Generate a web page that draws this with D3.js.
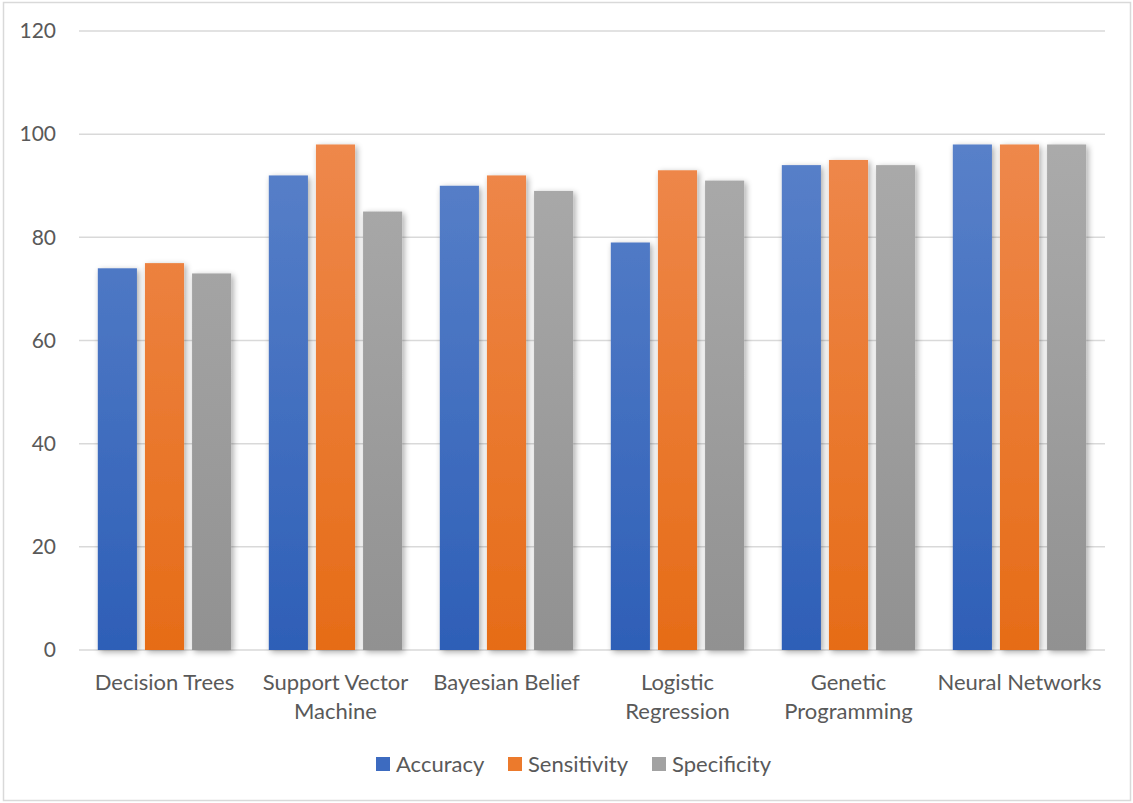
<!DOCTYPE html>
<html>
<head>
<meta charset="utf-8">
<script src="https://cdn.jsdelivr.net/npm/d3@7"></script>
<style>
  html, body { margin: 0; padding: 0; background: #ffffff; }
  svg { display: block; }
  text { font-family: Lato, "Open Sans", "Noto Sans", sans-serif; fill: #595959; }
</style>
</head>
<body>
<svg id="chart" width="1133" height="803"></svg>
<script>
// Classifier performance, grouped by method
const categories = [
  ["Decision Trees"],
  ["Support Vector", "Machine"],
  ["Bayesian Belief"],
  ["Logistic", "Regression"],
  ["Genetic", "Programming"],
  ["Neural Networks"]
];
const seriesNames = ["Accuracy", "Sensitivity", "Specificity"];
const accuracy    = [74, 92, 90, 79, 94, 98];
const sensitivity = [75, 98, 92, 93, 95, 98];
const specificity = [73, 85, 89, 91, 94, 98];
const yTicks = [0, 20, 40, 60, 80, 100, 120];

const seriesValues = [accuracy, sensitivity, specificity];
const colorTop    = ["#6288cd", "#f08e57", "#b0b0b0"];
const colorBottom = ["#2e5fb7", "#e66c17", "#919191"];
const legendColor = ["#3d6bc0", "#ec7a2c", "#a2a2a2"];

const FONT = 22;
const TICK_FONT = 21;
const svg = d3.select("#chart");
const W = 1133, H = 803;
const plot = { left: 79, right: 1105, top: 31, bottom: 650 };

// outer frame
svg.append("rect")
  .attr("x", 3.5).attr("y", 2.5)
  .attr("width", W - 6).attr("height", H - 5)
  .attr("fill", "#ffffff")
  .attr("stroke", "#d9d9d9").attr("stroke-width", 1.5);

const defs = svg.append("defs");
seriesNames.forEach((s, i) => {
  const g = defs.append("linearGradient")
    .attr("id", "grad" + i)
    .attr("gradientUnits", "userSpaceOnUse")
    .attr("x1", 0).attr("x2", 0)
    .attr("y1", plot.top).attr("y2", plot.bottom);
  g.append("stop").attr("offset", "0%").attr("stop-color", colorTop[i]);
  g.append("stop").attr("offset", "100%").attr("stop-color", colorBottom[i]);
});
const shadow = defs.append("filter").attr("id", "shadow")
  .attr("x", "-30%").attr("y", "-10%").attr("width", "160%").attr("height", "130%");
shadow.append("feGaussianBlur").attr("in", "SourceAlpha").attr("stdDeviation", 3).attr("result", "b");
shadow.append("feOffset").attr("in", "b").attr("dx", 2).attr("dy", 2).attr("result", "o");
shadow.append("feComponentTransfer").attr("in", "o").attr("result", "s")
  .append("feFuncA").attr("type", "linear").attr("slope", 0.35);
const merge = shadow.append("feMerge");
merge.append("feMergeNode").attr("in", "s");
merge.append("feMergeNode").attr("in", "SourceGraphic");

const catKeys = categories.map(c => c.join(" "));
const x0 = d3.scaleBand().domain(catKeys).range([plot.left, plot.right])
  .paddingInner(0.22).paddingOuter(0.11);
const x1 = d3.scaleBand().domain(seriesNames).range([0, x0.bandwidth()])
  .paddingInner(0.17).paddingOuter(0);
const y = d3.scaleLinear().domain([0, 120]).range([plot.bottom, plot.top]);

// gridlines
svg.append("g").selectAll("line").data(yTicks).join("line")
  .attr("x1", plot.left).attr("x2", plot.right)
  .attr("y1", d => y(d)).attr("y2", d => y(d))
  .attr("stroke", "#d9d9d9").attr("stroke-width", 1.5);

// y axis labels
const yAxis = d3.axisLeft(y).tickValues(yTicks).tickSize(0).tickPadding(0);
const yg = svg.append("g").attr("transform", `translate(56,0)`).call(yAxis);
yg.select(".domain").remove();
yg.selectAll("text")
  .attr("font-size", TICK_FONT)
  .attr("fill", "#595959")
  .attr("font-family", "Lato, 'Open Sans', sans-serif");

// bars
const groups = svg.append("g").selectAll("g").data(catKeys).join("g")
  .attr("transform", d => `translate(${x0(d)},0)`);
groups.selectAll("rect")
  .data((d, ci) => seriesNames.map((s, si) => ({ s, si, v: seriesValues[si][ci] })))
  .join("rect")
  .attr("x", d => x1(d.s))
  .attr("width", x1.bandwidth())
  .attr("y", d => y(d.v))
  .attr("height", d => y(0) - y(d.v))
  .attr("fill", d => `url(#grad${d.si})`)
  .attr("filter", "url(#shadow)");

// category labels
const xl = svg.append("g").selectAll("text").data(categories).join("text")
  .attr("x", (d, i) => x0(catKeys[i]) + x0.bandwidth() / 2)
  .attr("y", 690)
  .attr("text-anchor", "middle")
  .attr("font-size", FONT);
xl.selectAll("tspan").data(d => d).join("tspan")
  .attr("x", function () { return this.parentNode.getAttribute("x"); })
  .attr("dy", (d, i) => i === 0 ? 0 : 29)
  .text(d => d);

// legend
const legendX = [376, 508, 652];
const lg = svg.append("g").selectAll("g").data(seriesNames).join("g")
  .attr("transform", (d, i) => `translate(${legendX[i]},757)`);
lg.append("rect").attr("width", 14).attr("height", 14)
  .attr("fill", (d, i) => legendColor[i]);
lg.append("text").attr("x", 20).attr("y", 15)
  .attr("font-size", FONT).text(d => d);
</script>
</body>
</html>
